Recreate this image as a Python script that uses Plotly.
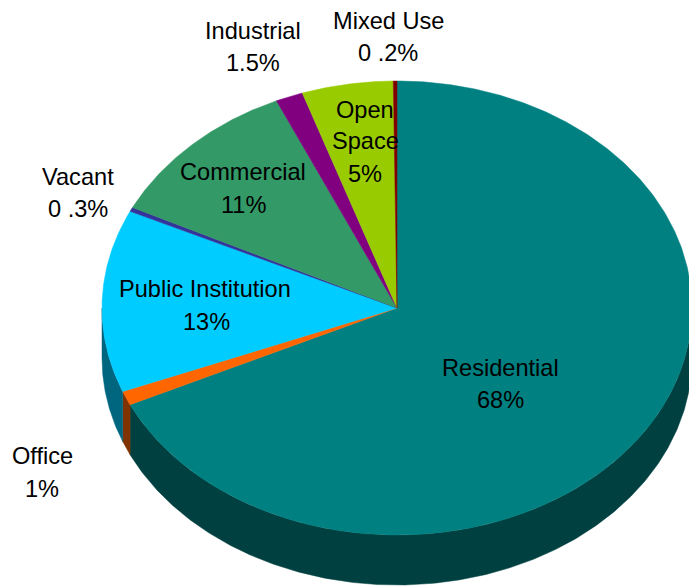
import numpy as np
import plotly.graph_objects as go

categories = ["Residential", "Office", "Public Institution", "Vacant",
              "Commercial", "Industrial", "Open Space", "Mixed Use"]
values = [68, 1, 13, 0.3, 11, 1.5, 5, 0.2]
top_colors = ["#008080", "#FF6600", "#00CCFF", "#333399",
              "#339966", "#800080", "#99CC00", "#800000"]
side_colors = ["#004040", "#803300", "#006680", "#1A1A4D",
               "#1A4D33", "#400040", "#4D6600", "#400000"]

# Text lines: (text, x, y) in chart pixels
label_lines = [
    ("Residential", 500, 368), ("68%", 500, 400),
    ("Office", 42, 456), ("1%", 42, 489),
    ("Public Institution", 205, 289), ("13%", 206, 322),
    ("Vacant", 78, 177), ("0 .3%", 78, 209),
    ("Commercial", 243, 172), ("11%", 243, 205),
    ("Industrial", 253, 31), ("1.5%", 253, 63),
    ("Open", 365, 110), ("Space", 365, 141), ("5%", 365, 174),
    ("Mixed Use", 388, 21), ("0 .2%", 388, 53),
]

W, H = 689, 586
CX, CY, RX, RY, DEPTH = 397, 308, 295, 227, 50


def arc(a0, a1, dy=0.0):
    n = max(2, int(abs(a1 - a0) * 2) + 2)
    t = np.radians(np.linspace(a0, a1, n))
    return CX + RX * np.sin(t), CY + dy - RY * np.cos(t)


fig = go.Figure()
edges = np.concatenate([[0], np.cumsum(values)]) / sum(values) * 360

# Rim: only the front half of the disc shows (90 to 270 degrees clockwise from top)
for i, name in enumerate(categories):
    a0, a1 = max(edges[i], 90), min(edges[i + 1], 270)
    if a1 <= a0:
        continue
    xt, yt = arc(a0, a1)
    xb, yb = arc(a1, a0, DEPTH)
    fig.add_trace(go.Scatter(
        x=np.r_[xt, xb, xt[0]], y=np.r_[yt, yb, yt[0]],
        mode="lines", fill="toself", fillcolor=side_colors[i],
        line=dict(color=side_colors[i], width=0.5), hoverinfo="skip", showlegend=False))

# Top face
for i, name in enumerate(categories):
    xa, ya = arc(edges[i], edges[i + 1])
    fig.add_trace(go.Scatter(
        x=np.r_[CX, xa, CX], y=np.r_[CY, ya, CY],
        mode="lines", fill="toself", fillcolor=top_colors[i],
        line=dict(color=top_colors[i], width=0.5), name=name, showlegend=False,
        hovertemplate=f"{name}: {values[i]}%<extra></extra>"))

for text, x, y in label_lines:
    fig.add_annotation(x=x, y=y, text=text, showarrow=False, xanchor="center", yanchor="middle",
                       font=dict(family="Liberation Sans, Arial, sans-serif", size=23.6, color="#000000"))

fig.update_layout(
    width=W, height=H, margin=dict(l=0, r=0, t=0, b=0),
    paper_bgcolor="white", plot_bgcolor="white", showlegend=False,
    xaxis=dict(range=[0, W], visible=False, fixedrange=True),
    yaxis=dict(range=[H, 0], visible=False, fixedrange=True),
)
fig.write_html("out.html", config={"displayModeBar": False},
               post_script="document.body.style.margin='0';document.body.style.overflow='hidden';")
